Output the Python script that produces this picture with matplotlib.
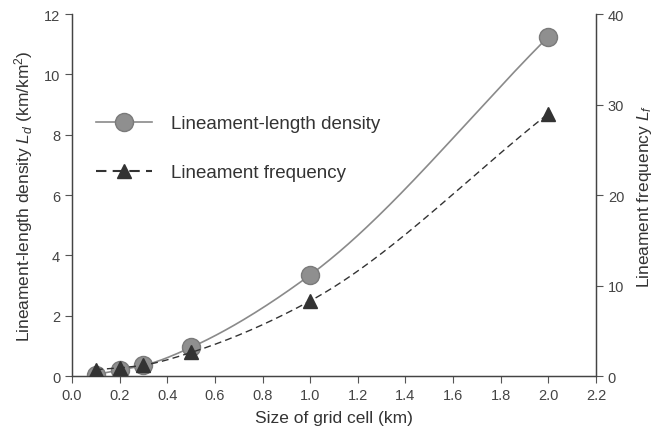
import numpy as np
import matplotlib
matplotlib.use("Agg")
import matplotlib.pyplot as plt

# values
cell_size = [0.1, 0.2, 0.3, 0.5, 1.0, 2.0]
density = [0.05, 0.2, 0.35, 0.95, 3.35, 11.25]
frequency = [0.7, 0.9, 1.2, 2.6, 8.3, 29.0]


def smooth(x, y, n=200):
    # monotone cubic (PCHIP-like) curve through the points, for the smooth lines
    x = np.asarray(x, float)
    y = np.asarray(y, float)
    h = np.diff(x)
    d = np.diff(y) / h
    m = np.zeros_like(y)
    m[0], m[-1] = d[0], d[-1]
    for k in range(1, len(x) - 1):
        if d[k - 1] * d[k] > 0:
            w1 = 2 * h[k] + h[k - 1]
            w2 = h[k] + 2 * h[k - 1]
            m[k] = (w1 + w2) / (w1 / d[k - 1] + w2 / d[k])
    xs = np.linspace(x[0], x[-1], n)
    idx = np.clip(np.searchsorted(x, xs) - 1, 0, len(x) - 2)
    t = (xs - x[idx]) / h[idx]
    h00 = 2 * t**3 - 3 * t**2 + 1
    h10 = t**3 - 2 * t**2 + t
    h01 = -2 * t**3 + 3 * t**2
    h11 = t**3 - t**2
    ys = h00 * y[idx] + h10 * h[idx] * m[idx] + h01 * y[idx + 1] + h11 * h[idx] * m[idx + 1]
    return xs, ys


plt.rcParams['font.family'] = ['Liberation Sans', 'DejaVu Sans']
plt.rcParams['mathtext.fontset'] = 'custom'
plt.rcParams['mathtext.rm'] = 'Liberation Sans'
plt.rcParams['mathtext.it'] = 'Liberation Sans:italic'

fig = plt.figure(figsize=(6.57, 4.39), dpi=100)
ax = fig.add_axes([0.1096, 0.1412, 0.7976, 0.8246])
ax2 = ax.twinx()

xs, ys = smooth(cell_size, density)
ax.plot(xs, ys, color='#8a8a8a', lw=1.2, zorder=2)
ax.plot(cell_size, density, 'o', ms=13, mfc='#8f8f8f', mec='#7a7a7a', mew=1, zorder=3)

xs2, ys2 = smooth(cell_size, frequency)
ax2.plot(xs2, ys2, color='#333333', lw=1.0, ls=(0, (5, 3)), zorder=2)
ax2.plot(cell_size, frequency, '^', ms=10, mfc='#333333', mec='#333333', zorder=3)

ax.set_xlim(0.0, 2.2)
ax.set_ylim(0, 12)
ax2.set_ylim(0, 40)
ax.set_xticks(np.arange(0, 2.21, 0.2))
ax.set_xticklabels(['%.1f' % v for v in np.arange(0, 2.21, 0.2)])
ax.set_yticks(range(0, 13, 2))
ax2.set_yticks(range(0, 41, 10))

for a in (ax, ax2):
    a.spines['top'].set_visible(False)
    for s in a.spines.values():
        s.set_color('#444444')
        s.set_linewidth(0.9)
    a.tick_params(direction='out', length=5, width=0.8, colors='#555555',
                  labelsize=10.5, labelcolor='#444444')

ax.set_xlabel('Size of grid cell (km)', fontsize=12.5, color='#333333', labelpad=6)
ax.set_ylabel(r'Lineament-length density $\mathit{L_d}$ (km/km$^2$)',
              fontsize=12.5, color='#333333', labelpad=6)
ax2.set_ylabel(r'Lineament frequency $\mathit{L_f}$', fontsize=12.5,
               color='#333333', labelpad=8)

# legend drawn like the reference (marker + line sample, then text)
h1, = ax.plot([], [], color='#8a8a8a', lw=1.2, marker='o', ms=13,
              mfc='#8f8f8f', mec='#7a7a7a')
h2, = ax.plot([], [], color='#333333', lw=1.5, ls=(0, (5, 3)), marker='^',
              ms=10, mfc='#333333', mec='#333333')
leg = ax.legend([h1, h2], ['Lineament-length density', 'Lineament frequency'],
                loc='upper left', bbox_to_anchor=(0.045, 0.72), frameon=False,
                fontsize=13.5, handlelength=3.0, labelspacing=1.7,
                handletextpad=1.0, borderpad=0, borderaxespad=0)
for t in leg.get_texts():
    t.set_color('#333333')

fig.savefig('out.png', dpi=100)
